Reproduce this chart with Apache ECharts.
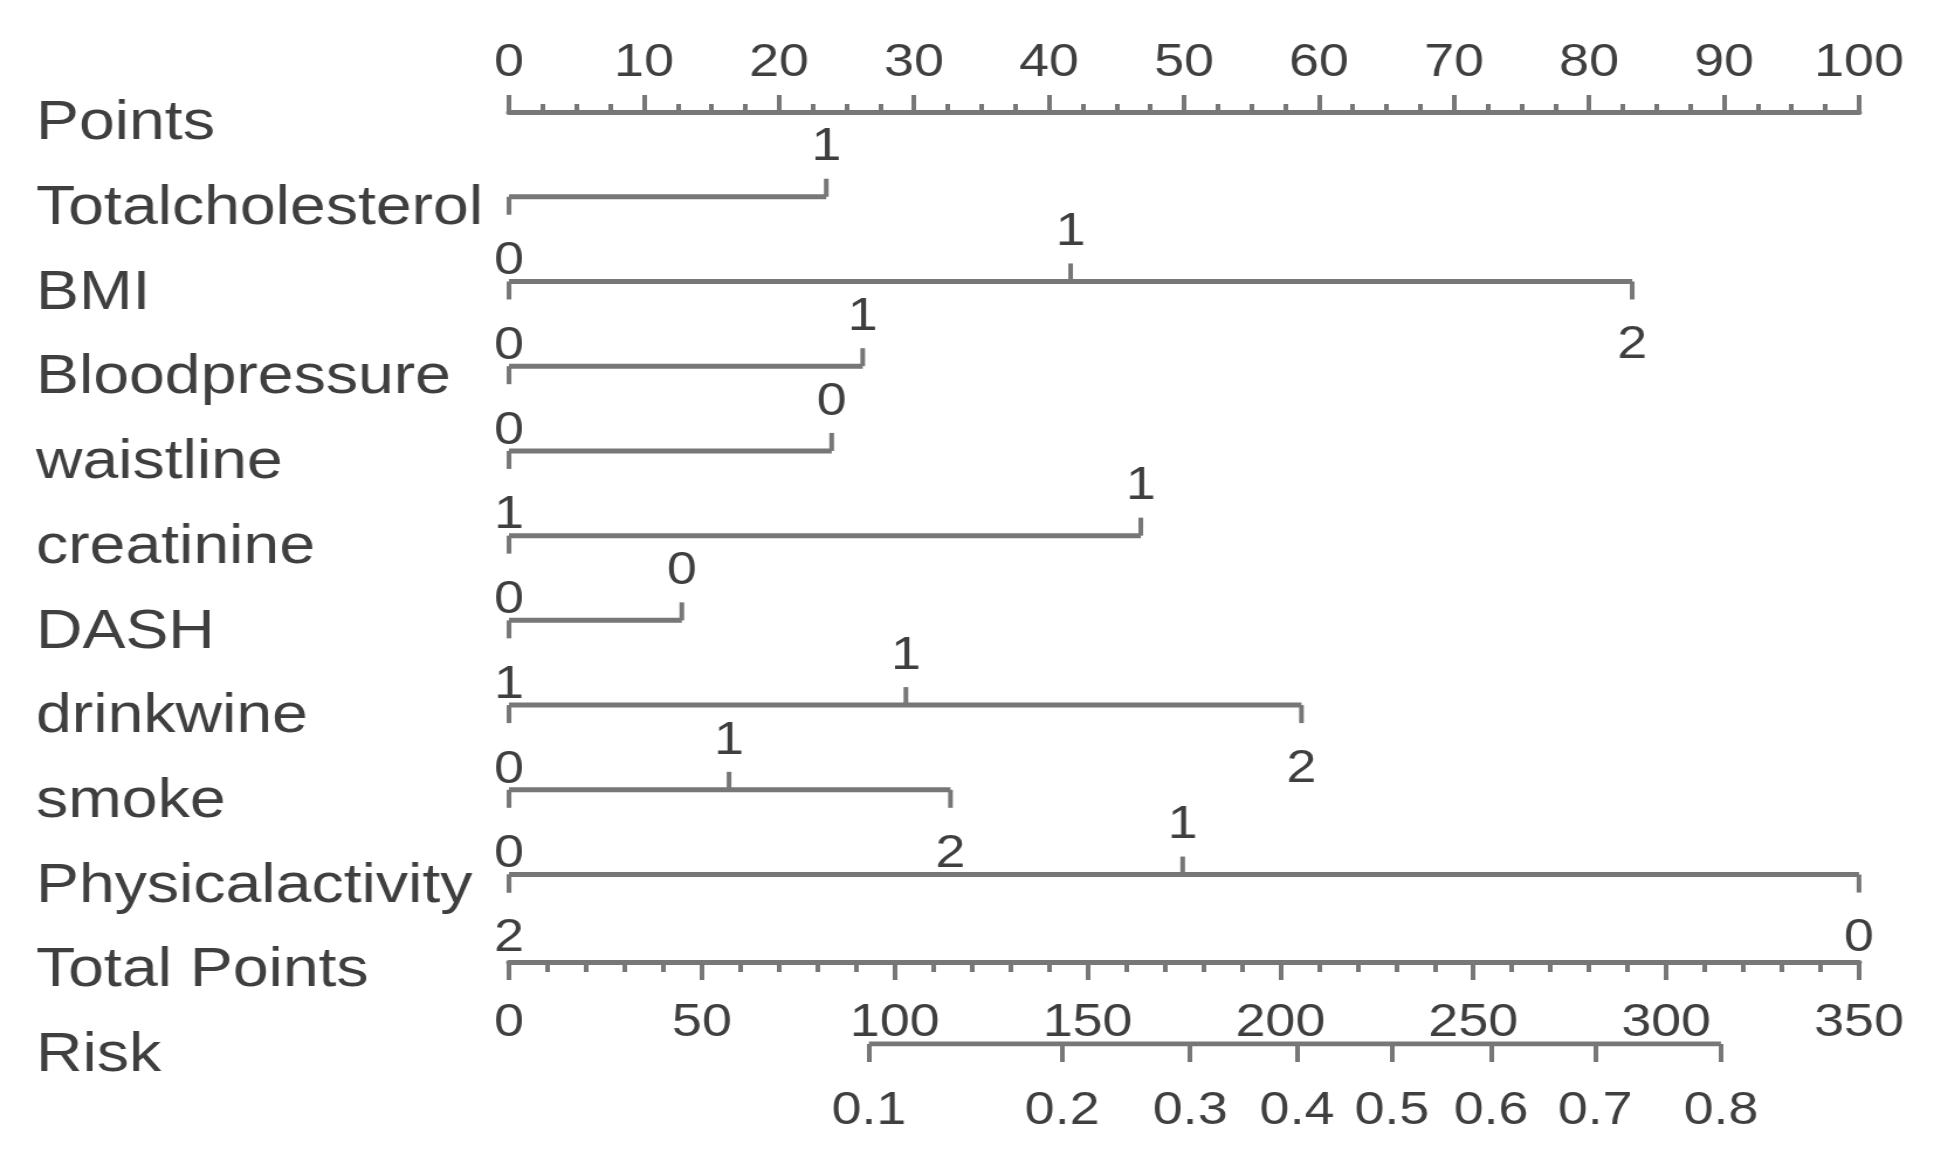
<!DOCTYPE html>
<html>
<head>
<meta charset="utf-8">
<title>Nomogram</title>
<script src="https://cdn.jsdelivr.net/npm/echarts@6/dist/echarts.min.js"></script>
<style>
  html, body { margin: 0; padding: 0; background: #fff; overflow: hidden; }
  /* the source figure is stretched sideways, so the chart is drawn narrower and widened */
  #chart { width: 1653px; height: 1149px; transform: scaleX(1.17); transform-origin: 0 0; }
</style>
</head>
<body>
<div id="chart"></div>
<script>
const rowNames = ['Points', 'Totalcholesterol', 'BMI', 'Bloodpressure', 'waistline', 'creatinine', 'DASH', 'drinkwine', 'smoke', 'Physicalactivity', 'Total Points', 'Risk']

const pointsMax = 100
const totalPointsMax = 350

// each variable scale: [points, label, label above or below the line]
const totalcholesterol = [[0, '', 'above'], [23.5, '1', 'above']]
const bmi = [[0, '0', 'above'], [41.6, '1', 'above'], [83.2, '2', 'below']]
const bloodpressure = [[0, '0', 'above'], [26.2, '1', 'above']]
const waistline = [[0, '0', 'above'], [23.9, '0', 'above']]
const creatinine = [[0, '1', 'above'], [46.8, '1', 'above']]
const dash = [[0, '0', 'above'], [12.8, '0', 'above']]
const drinkwine = [[0, '1', 'above'], [29.4, '1', 'above'], [58.7, '2', 'below']]
const smoke = [[0, '0', 'above'], [16.3, '1', 'above'], [32.7, '2', 'below']]
const physicalactivity = [[0, '0', 'above'], [0, '2', 'below'], [49.9, '1', 'above'], [100, '0', 'below']]

// risk scale: total points where each probability falls
const riskLabels = ['0.1', '0.2', '0.3', '0.4', '0.5', '0.6', '0.7', '0.8']
const riskTotalPoints = [93.3, 143.4, 176.6, 204.3, 228.9, 254.6, 281.6, 314.2]

const variableScales = [totalcholesterol, bmi, bloodpressure, waistline, creatinine, dash, drinkwine, smoke, physicalactivity]

const sx = 1.17
const lineColor = '#777777'
const textColor = '#3f3f3f'
const fontFamily = '"Liberation Sans", Arial, sans-serif'

// flatten the scales into tick marks, row index = position in rowNames
const tickData = []
variableScales.forEach((scale, i) => {
  scale.forEach(([v, label, side]) => {
    tickData.push({ v: v, row: i + 1, label: label, side: side })
  })
})

const rowLines = variableScales.map((scale, i) => {
  const vals = scale.map(s => s[0])
  return {
    type: 'line',
    xAxisIndex: 0,
    yAxisIndex: 0,
    silent: true,
    symbol: 'none',
    lineStyle: { color: lineColor, width: 5, cap: 'butt' },
    data: [[Math.min(...vals), i + 1], [Math.max(...vals), i + 1]]
  }
})

const labelFont = { fontFamily: fontFamily, fontSize: 46, color: textColor }
const tickStyle = { color: lineColor, width: 4 }

const option = {
  animation: false,
  backgroundColor: '#ffffff',
  grid: {
    left: 509 / sx,
    right: 75 / sx,
    top: 112,
    bottom: 105,
    outerBoundsMode: 'none'
  },
  xAxis: [
    {
      // Points
      type: 'value',
      position: 'top',
      min: 0,
      max: pointsMax,
      interval: 10,
      axisLine: { show: true, onZero: false, lineStyle: { color: lineColor, width: 5 } },
      axisTick: { show: true, length: 17, lineStyle: tickStyle },
      minorTick: { show: true, splitNumber: 4, length: 8, lineStyle: tickStyle },
      splitLine: { show: false },
      axisLabel: { ...labelFont, margin: 26, showMinLabel: true, showMaxLabel: true }
    },
    {
      // Total Points
      type: 'value',
      position: 'bottom',
      offset: -82,
      min: 0,
      max: totalPointsMax,
      interval: 50,
      axisLine: { show: true, onZero: false, lineStyle: { color: lineColor, width: 5 } },
      axisTick: { show: true, length: 18, lineStyle: tickStyle },
      minorTick: { show: true, splitNumber: 5, length: 10, lineStyle: tickStyle },
      splitLine: { show: false },
      axisLabel: { ...labelFont, margin: 38, showMinLabel: true, showMaxLabel: true }
    },
    {
      // Risk, placed on the total points scale
      type: 'value',
      position: 'bottom',
      offset: 0,
      min: 0,
      max: totalPointsMax,
      axisLine: { show: false },
      axisTick: { show: true, customValues: riskTotalPoints, length: 18, lineStyle: tickStyle },
      splitLine: { show: false },
      axisLabel: {
        ...labelFont,
        margin: 44,
        customValues: riskTotalPoints,
        formatter: (v) => riskLabels[riskTotalPoints.indexOf(v)]
      }
    }
  ],
  yAxis: {
    type: 'category',
    inverse: true,
    boundaryGap: false,
    data: rowNames,
    axisLine: { show: false },
    axisTick: { show: false },
    splitLine: { show: false },
    axisLabel: {
      interval: 0,
      align: 'left',
      verticalAlign: 'top',
      lineHeight: 24,
      margin: (509 - 36) / sx,
      fontFamily: fontFamily,
      fontSize: 55,
      color: textColor
    }
  },
  series: [
    ...rowLines,
    {
      type: 'line',
      xAxisIndex: 2,
      yAxisIndex: 0,
      silent: true,
      symbol: 'none',
      lineStyle: { color: lineColor, width: 5, cap: 'butt' },
      data: [[riskTotalPoints[0], 11], [riskTotalPoints[riskTotalPoints.length - 1], 11]]
    },
    {
      type: 'custom',
      xAxisIndex: 0,
      yAxisIndex: 0,
      silent: true,
      data: tickData.map(t => [t.v, t.row]),
      renderItem: (params, api) => {
        const t = tickData[params.dataIndex]
        const p = api.coord([api.value(0), api.value(1)])
        const atStart = t.v === 0
        // left ends tick downwards, other ticks point at their label
        const dir = (atStart || t.side === 'below') ? 1 : -1
        const children = [{
          type: 'line',
          shape: { x1: p[0], y1: p[1], x2: p[0], y2: p[1] + dir * 18 },
          style: { stroke: lineColor, lineWidth: 4 }
        }]
        if (t.label) {
          let dy = t.side === 'below' ? 64 : -49
          if (atStart && t.side === 'above') dy = -20
          children.push({
            type: 'text',
            x: p[0],
            y: p[1] + dy,
            style: {
              text: t.label,
              font: '46px ' + fontFamily,
              fill: textColor,
              align: 'center',
              verticalAlign: 'middle'
            }
          })
        }
        return { type: 'group', children: children }
      }
    }
  ]
}

const chart = echarts.init(document.getElementById('chart'))
chart.setOption(option)
</script>
</body>
</html>
